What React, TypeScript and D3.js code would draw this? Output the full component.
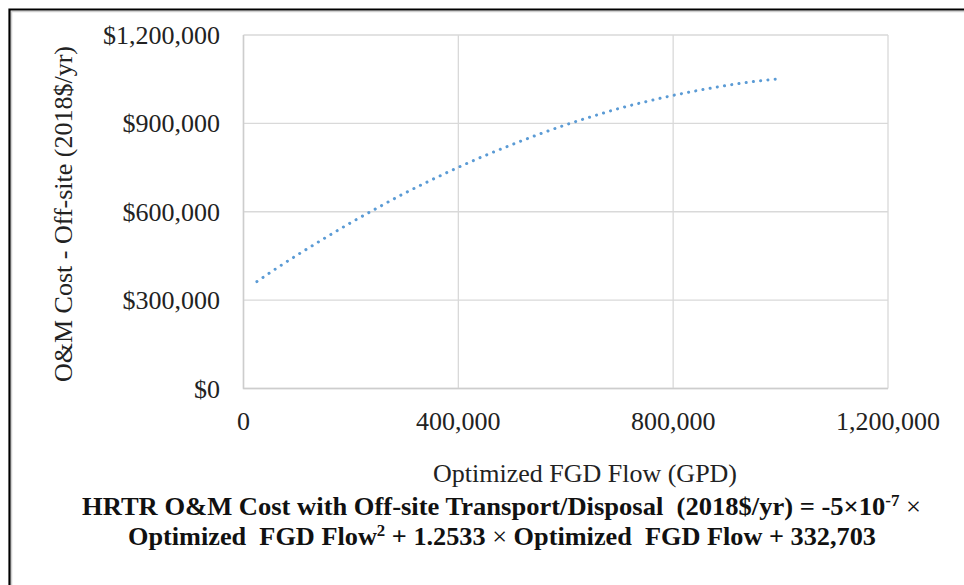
import React, { useEffect, useRef } from "react";
import * as d3 from "d3";

// flow (GPD) and O&M cost (2018$/yr)
const flows = [25000, 50000, 100000, 150000, 200000, 250000, 300000, 350000, 400000, 450000, 500000,
  550000, 600000, 650000, 700000, 750000, 800000, 850000, 900000, 950000, 1000000];
const costs = [363000, 394000, 453000, 509000, 563000, 614000, 663000, 708000, 751000, 791000, 828000,
  863000, 895000, 924000, 951000, 974000, 995000, 1013000, 1029000, 1042000, 1052000];

const xTicks = [0, 400000, 800000, 1200000];
const yTicks = [0, 300000, 600000, 900000, 1200000];

const yTitle = "O&M Cost - Off-site (2018$/yr)";
const xTitle = "Optimized FGD Flow (GPD)";

export default function App() {
  const ref = useRef<SVGSVGElement>(null);

  useEffect(() => {
    const svg = d3.select(ref.current);
    svg.selectAll("*").remove();

    const width = 964, height = 585;
    const left = 243.5, right = 888, top = 35, bottom = 388.5;
    const serif = "'Liberation Serif', 'Times New Roman', serif";

    svg.append("rect").attr("width", width).attr("height", height).attr("fill", "#fff");

    // outer frame (only top & left visible)
    svg.append("path")
      .attr("d", `M11.5,${height + 5} V11.5 H${width + 5}`)
      .attr("fill", "none").attr("stroke", "#cfcfcf").attr("stroke-width", 1.5);
    svg.append("path")
      .attr("d", `M9.5,${height + 5} V9.5 H${width + 5}`)
      .attr("fill", "none").attr("stroke", "#000").attr("stroke-width", 2.2);

    const x = d3.scaleLinear().domain([0, 1200000]).range([left, right]);
    const y = d3.scaleLinear().domain([0, 1200000]).range([bottom, top]);

    const grid = svg.append("g");
    grid.selectAll(".vg").data(xTicks).enter().append("line")
      .attr("x1", d => x(d)).attr("x2", d => x(d))
      .attr("y1", top).attr("y2", bottom)
      .attr("stroke", "#d9d9d9").attr("stroke-width", 1.3);
    grid.selectAll(".hg").data(yTicks).enter().append("line")
      .attr("x1", left).attr("x2", right)
      .attr("y1", d => y(d)).attr("y2", d => y(d))
      .attr("stroke", "#d9d9d9").attr("stroke-width", 1.3);
    // axis lines
    svg.append("path")
      .attr("d", `M${left},${top} V${bottom} H${right}`)
      .attr("fill", "none").attr("stroke", "#cdcdcd").attr("stroke-width", 1.5);

    const fmt = d3.format(",");
    svg.append("g").selectAll("text").data(yTicks).enter().append("text")
      .attr("x", 220).attr("y", d => y(d) + 9)
      .attr("text-anchor", "end")
      .style("font-family", serif).style("font-size", "26px").attr("fill", "#222")
      .text(d => "$" + fmt(d));

    svg.append("g").selectAll("text").data(xTicks).enter().append("text")
      .attr("x", d => x(d)).attr("y", 430)
      .attr("text-anchor", "middle")
      .style("font-family", serif).style("font-size", "26px").attr("fill", "#222")
      .text(d => fmt(d));

    svg.append("text")
      .attr("transform", `translate(72,${(40 + 388) / 2}) rotate(-90)`)
      .attr("text-anchor", "middle")
      .style("font-family", serif).style("font-size", "26px").attr("fill", "#222")
      .text(yTitle);

    svg.append("text")
      .attr("x", 585).attr("y", 482)
      .attr("text-anchor", "middle")
      .style("font-family", serif).style("font-size", "26px").attr("fill", "#222")
      .text(xTitle);

    // dotted curve
    const pts = flows.map((f, i) => [f, costs[i]] as [number, number]);
    const line = d3.line<[number, number]>()
      .x(d => x(d[0])).y(d => y(d[1]))
      .curve(d3.curveMonotoneX);
    svg.append("path")
      .attr("d", line(pts))
      .attr("fill", "none")
      .attr("stroke", "#5b9bd5")
      .attr("stroke-width", 3)
      .attr("stroke-linecap", "round")
      .attr("stroke-dasharray", "0.1 7.2");

    // equation caption
    const cap = svg.append("g")
      .style("font-family", serif).style("font-weight", "bold").style("font-size", "25px")
      .attr("fill", "#111");
    const l1 = cap.append("text")
      .attr("x", 82).attr("y", 515)
      .attr("textLength", 839).attr("lengthAdjust", "spacingAndGlyphs");
    l1.append("tspan").text("HRTR O&M Cost with Off-site Transport/Disposal \u00a0(2018$/yr) = -5×10");
    l1.append("tspan").attr("dy", -9).style("font-size", "16px").text("-7");
    l1.append("tspan").attr("dy", 9).style("font-weight", "normal").text(" ×");

    const l2 = cap.append("text")
      .attr("x", 128).attr("y", 545)
      .attr("textLength", 748).attr("lengthAdjust", "spacingAndGlyphs");
    l2.append("tspan").text("Optimized \u00a0FGD Flow");
    l2.append("tspan").attr("dy", -9).style("font-size", "16px").text("2");
    l2.append("tspan").attr("dy", 9).text(" + 1.2533 ");
    l2.append("tspan").style("font-weight", "normal").text("×");
    l2.append("tspan").text(" Optimized \u00a0FGD Flow + 332,703");
  }, []);

  return (
    <svg
      ref={ref}
      width={964}
      height={585}
      style={{ position: "absolute", left: 0, top: 0, display: "block" }}
    />
  );
}
